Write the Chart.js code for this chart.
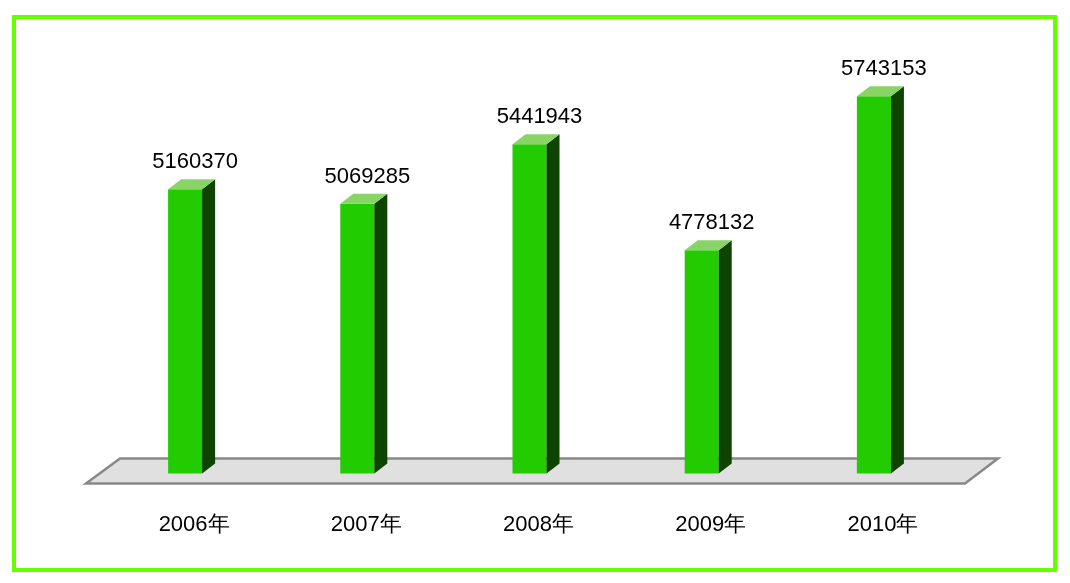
<!DOCTYPE html>
<html>
<head>
<meta charset="utf-8">
<script src="https://cdn.jsdelivr.net/npm/chart.js@4/dist/chart.umd.min.js"></script>
<style>
  html, body { margin: 0; padding: 0; background: #ffffff; }
  #wrap { width: 1070px; height: 583px; }
</style>
</head>
<body>
<div id="wrap"><canvas id="c" width="1070" height="583"></canvas></div>
<script>
const categories = ['2006年', '2007年', '2008年', '2009年', '2010年'];
const values = [5160370, 5069285, 5441943, 4778132, 5743153];
const valueLabels = ['5160370', '5069285', '5441943', '4778132', '5743153'];

const FONT = '"Liberation Sans", Arial, sans-serif';
const DEPTH_X = 13, DEPTH_Y = 10;

const decor = {
  id: 'decor',
  beforeDatasetsDraw(chart) {
    const ctx = chart.ctx, a = chart.chartArea;
    ctx.save();
    // outer green frame
    ctx.strokeStyle = '#66ff00';
    ctx.lineWidth = 4;
    ctx.strokeRect(14, 17, 1041, 553);
    // floor
    ctx.beginPath();
    ctx.moveTo(a.left - 13, a.bottom + 10);
    ctx.lineTo(a.left + 21, a.bottom - 15);
    ctx.lineTo(a.right + 38, a.bottom - 15);
    ctx.lineTo(a.right + 5, a.bottom + 10);
    ctx.closePath();
    ctx.fillStyle = '#e0e0e0';
    ctx.fill();
    ctx.strokeStyle = '#888888';
    ctx.lineWidth = 2.5;
    ctx.stroke();
    ctx.restore();
  },
  afterDatasetsDraw(chart) {
    const ctx = chart.ctx;
    const meta = chart.getDatasetMeta(0);
    const base = chart.chartArea.bottom;
    ctx.save();
    meta.data.forEach((bar, i) => {
      const p = bar.getProps(['x', 'y', 'width'], true);
      const x1 = p.x - p.width / 2, x2 = p.x + p.width / 2;
      const top = p.y;
      // side face
      ctx.beginPath();
      ctx.moveTo(x2, top);
      ctx.lineTo(x2 + DEPTH_X, top - DEPTH_Y);
      ctx.lineTo(x2 + DEPTH_X, base - DEPTH_Y);
      ctx.lineTo(x2, base);
      ctx.closePath();
      ctx.fillStyle = '#0f4400';
      ctx.fill();
      // top face
      ctx.beginPath();
      ctx.moveTo(x1, top);
      ctx.lineTo(x1 + DEPTH_X, top - DEPTH_Y);
      ctx.lineTo(x2 + DEPTH_X, top - DEPTH_Y);
      ctx.lineTo(x2, top);
      ctx.closePath();
      ctx.fillStyle = '#88d466';
      ctx.fill();
      // value label
      ctx.fillStyle = '#000000';
      ctx.font = '22px ' + FONT;
      ctx.textAlign = 'center';
      ctx.textBaseline = 'alphabetic';
      ctx.fillText(valueLabels[i], p.x + 10, top - 21);
    });
    ctx.restore();
  }
};

new Chart(document.getElementById('c'), {
  type: 'bar',
  data: {
    labels: categories,
    datasets: [{
      data: values,
      backgroundColor: '#22cc00',
      borderWidth: 0,
      barPercentage: 0.4,
      categoryPercentage: 0.494
    }]
  },
  options: {
    responsive: false,
    animation: false,
    events: [],
    layout: { padding: { left: 99, right: 110, top: 60, bottom: 7 } },
    plugins: { legend: { display: false }, tooltip: { enabled: false }, title: { display: false } },
    scales: {
      x: {
        grid: { display: false, drawTicks: false },
        border: { display: false },
        ticks: {
          color: '#000000',
          font: { family: FONT, size: 22 },
          padding: 38,
          labelOffset: 9,
          maxRotation: 0
        }
      },
      y: {
        display: false,
        min: 3380000,
        max: 5970000
      }
    }
  },
  plugins: [decor]
});
</script>
</body>
</html>
